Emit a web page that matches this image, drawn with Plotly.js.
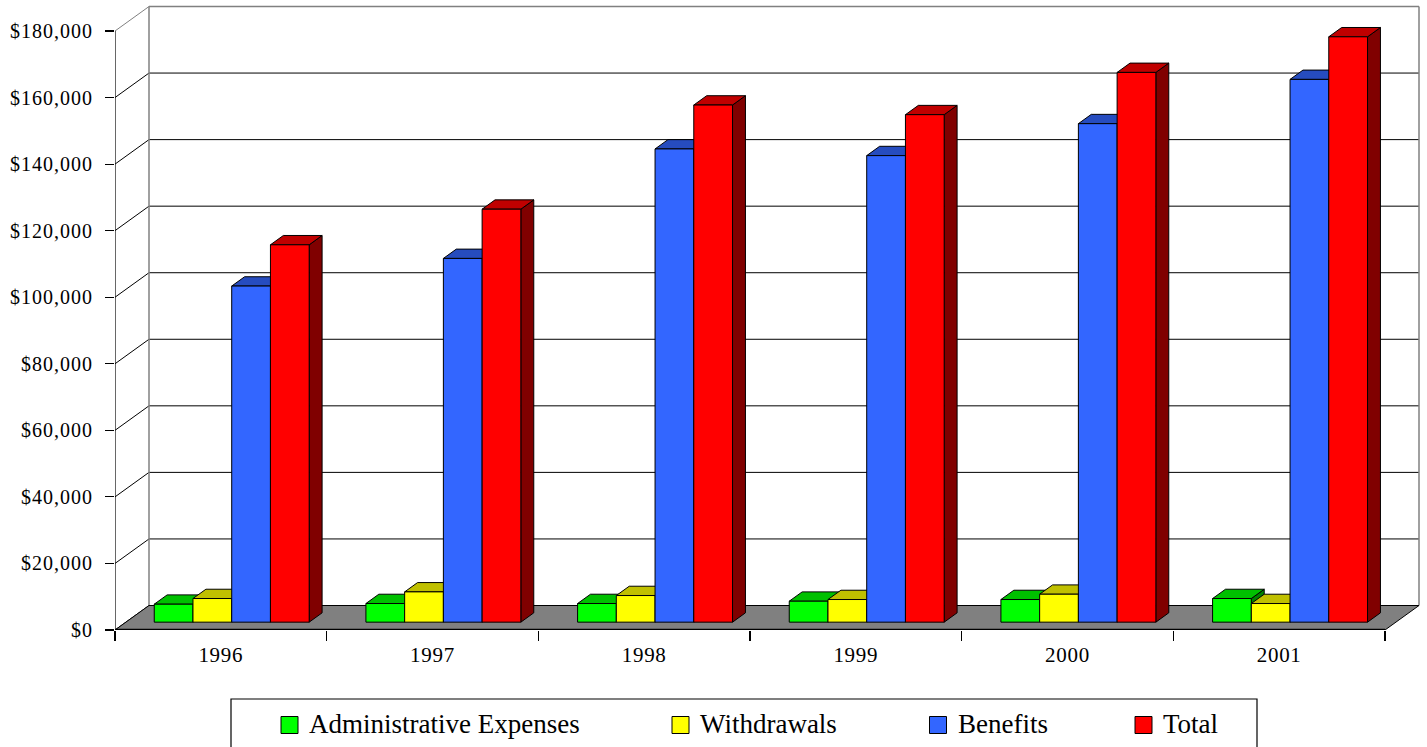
<!DOCTYPE html>
<html>
<head>
<meta charset="utf-8">
<script src="https://cdn.plot.ly/plotly-3.0.1.min.js"></script>
<style>
  html, body { margin: 0; padding: 0; background: #ffffff; }
  #chart { width: 1427px; height: 747px; }
  .ytick text { letter-spacing: 1px; }
  .x2tick text { letter-spacing: 0.7px; }
</style>
</head>
<body>
<div id="chart"></div>
<script>
// ---- data ----
const years = ['1996', '1997', '1998', '1999', '2000', '2001'];
const adminExpenses = [5400, 5600, 5600, 6300, 6800, 7100];
const withdrawals = [7100, 9100, 8000, 6800, 8400, 5600];
const benefits = [101000, 109300, 142200, 140200, 149800, 163100];
const total = [113400, 124100, 155400, 152500, 165200, 175900];
const seriesNames = ['Administrative Expenses', 'Withdrawals', 'Benefits', 'Total'];
const yTickVals = [0, 20000, 40000, 60000, 80000, 100000, 120000, 140000, 160000, 180000];
const yTickText = yTickVals.map(v => '$' + v.toLocaleString('en-US'));

// ---- styling ----
const faceColors = [
  { front: '#00FF00', top: '#00C000', side: '#008000' },
  { front: '#FFFF00', top: '#C0C000', side: '#808000' },
  { front: '#3366FF', top: '#264CBF', side: '#1A3380' },
  { front: '#FF0000', top: '#C00000', side: '#800000' }
];
const FONT = 'Liberation Serif';

// ---- layout geometry (pixels) ----
const W = 1427, H = 747;
const M = { l: 115, r: 7, t: 5, b: 117 };
const plotW = W - M.l - M.r, plotH = H - M.t - M.b;
const catPx = 1270 / years.length;          // width of one category on the front plane
const valPx = 599 / 180000;                 // pixels per dollar on the front plane
const depthPx = { dx: 34, dy: 24.5 };       // oblique offset from front plane to back wall
const xMax = plotW / catPx, yMax = plotH / valPx;
const DX = depthPx.dx / catPx, DY = depthPx.dy / valPx;   // same offset in axis units
const barDepth = [0.32, 0.70];              // bar front/back as fractions of full depth
const groupPad = 0.134, barW = 0.183;

const series = [adminExpenses, withdrawals, benefits, total];
const nCat = years.length;
const yTop = yTickVals[yTickVals.length - 1];

// a point at category-position c, value v, depth d
function pt(c, v, d) { return [c + d * DX, v + d * DY]; }

const traces = [];

// floor
traces.push({
  type: 'scatter', mode: 'lines',
  x: [0, nCat, nCat + DX, DX, 0], y: [0, 0, DY, DY, 0],
  fill: 'toself', fillcolor: '#808080',
  line: { color: '#000000', width: 1 },
  hoverinfo: 'skip', showlegend: false
});

// bars: side, top, front per series, painted left to right inside each group
series.forEach((vals, s) => {
  const faces = { side: { x: [], y: [] }, top: { x: [], y: [] }, front: { x: [], y: [] } };
  vals.forEach((v, i) => {
    const xl = i + groupPad + s * barW, xr = xl + barW;
    const [d0, d1] = barDepth;
    const poly = {
      front: [pt(xl, 0, d0), pt(xr, 0, d0), pt(xr, v, d0), pt(xl, v, d0), pt(xl, 0, d0)],
      top: [pt(xl, v, d0), pt(xr, v, d0), pt(xr, v, d1), pt(xl, v, d1), pt(xl, v, d0)],
      side: [pt(xr, 0, d0), pt(xr, 0, d1), pt(xr, v, d1), pt(xr, v, d0), pt(xr, 0, d0)]
    };
    Object.keys(poly).forEach(k => {
      poly[k].forEach(p => { faces[k].x.push(p[0]); faces[k].y.push(p[1]); });
      faces[k].x.push(null); faces[k].y.push(null);
    });
  });
  ['side', 'top', 'front'].forEach(k => {
    traces.push({
      type: 'scatter', mode: 'lines', name: seriesNames[s],
      x: faces[k].x, y: faces[k].y,
      fill: 'toself', fillcolor: faceColors[s][k],
      line: { color: '#000000', width: 1 },
      hoverinfo: 'skip', showlegend: false
    });
  });
});

// value axis line and thick category axis line on the front plane
traces.push({
  type: 'scatter', mode: 'lines', xaxis: 'x2', yaxis: 'y',
  x: [0, 0, null, 0, nCat], y: [0, yTop, null, 0, 0],
  line: { color: '#000000', width: 1.2 },
  hoverinfo: 'skip', showlegend: false
});
traces.push({
  type: 'scatter', mode: 'lines', xaxis: 'x2', yaxis: 'y',
  x: [0, nCat], y: [0, 0],
  line: { color: '#000000', width: 2.5 },
  hoverinfo: 'skip', showlegend: false
});

// walls and gridlines
const shapes = [];
const GRAY = '#808080';
yTickVals.forEach(v => {
  const isTop = v === yTop;
  if (v > 0) {
    shapes.push({ type: 'line', layer: 'below', xref: 'x', yref: 'y',
      x0: DX, x1: nCat + DX, y0: v + DY, y1: v + DY,
      line: { color: isTop ? GRAY : '#000000', width: isTop ? 1.5 : 1 } });
  }
  shapes.push({ type: 'line', layer: 'below', xref: 'x', yref: 'y',
    x0: 0, x1: DX, y0: v, y1: v + DY,
    line: { color: isTop ? GRAY : '#000000', width: 1 } });
});
shapes.push({ type: 'line', layer: 'below', xref: 'x', yref: 'y',
  x0: DX, x1: DX, y0: DY, y1: yTop + DY, line: { color: GRAY, width: 1.5 } });
shapes.push({ type: 'line', layer: 'below', xref: 'x', yref: 'y',
  x0: nCat + DX, x1: nCat + DX, y0: DY, y1: yTop + DY, line: { color: GRAY, width: 1.5 } });

// legend box with swatches and labels
const px2x = px => (px - M.l) / plotW;
const py2y = py => (H - M.b - py) / plotH;
const legendBox = { x0: 231, x1: 1257, y0: 699, y1: 770 };
const legendItemX = [281, 672, 929.5, 1135];
const swatch = 17, swatchY = 725, labelGap = 26;
const annotations = [];
shapes.push({ type: 'rect', xref: 'paper', yref: 'paper',
  x0: px2x(legendBox.x0), x1: px2x(legendBox.x1), y0: py2y(legendBox.y1), y1: py2y(legendBox.y0),
  line: { color: '#000000', width: 1.2 }, fillcolor: 'rgba(0,0,0,0)' });
seriesNames.forEach((name, s) => {
  const x = legendItemX[s];
  shapes.push({ type: 'rect', xref: 'paper', yref: 'paper',
    x0: px2x(x), x1: px2x(x + swatch), y0: py2y(swatchY + swatch / 2), y1: py2y(swatchY - swatch / 2),
    line: { color: '#000000', width: 1 }, fillcolor: faceColors[s].front });
  annotations.push({ xref: 'paper', yref: 'paper', x: px2x(x + labelGap), y: py2y(swatchY - 1),
    xanchor: 'left', yanchor: 'middle', showarrow: false, text: name,
    font: { family: FONT, size: 27, color: '#000000' } });
});

const layout = {
  width: W, height: H,
  margin: M,
  paper_bgcolor: '#ffffff', plot_bgcolor: '#ffffff',
  showlegend: false, hovermode: false,
  font: { family: FONT, color: '#000000' },
  xaxis: {
    range: [0, xMax], tickmode: 'array',
    tickvals: years.map((_, i) => i).concat([nCat]),
    ticks: 'outside', ticklen: 10, tickwidth: 1.2, tickcolor: '#000000',
    showticklabels: false, showgrid: false, zeroline: false, showline: false, fixedrange: true
  },
  xaxis2: {
    overlaying: 'x', anchor: 'y', side: 'bottom',
    range: [0, xMax], tickmode: 'array',
    tickvals: years.map((_, i) => i + 0.5), ticktext: years,
    ticks: '', showgrid: false, zeroline: false, showline: false,
    ticklabelstandoff: 10, tickfont: { family: FONT, size: 21, color: '#000000' }, fixedrange: true
  },
  yaxis: {
    range: [0, yMax], tickmode: 'array', tickvals: yTickVals, ticktext: yTickText,
    ticks: 'outside', ticklen: 9, tickwidth: 1.2, tickcolor: '#000000',
    showgrid: false, zeroline: false, showline: false,
    ticklabelstandoff: 8, tickfont: { family: FONT, size: 20, color: '#000000' }, fixedrange: true
  },
  shapes: shapes,
  annotations: annotations
};

Plotly.newPlot('chart', traces, layout, { displayModeBar: false, staticPlot: true });
</script>
</body>
</html>
